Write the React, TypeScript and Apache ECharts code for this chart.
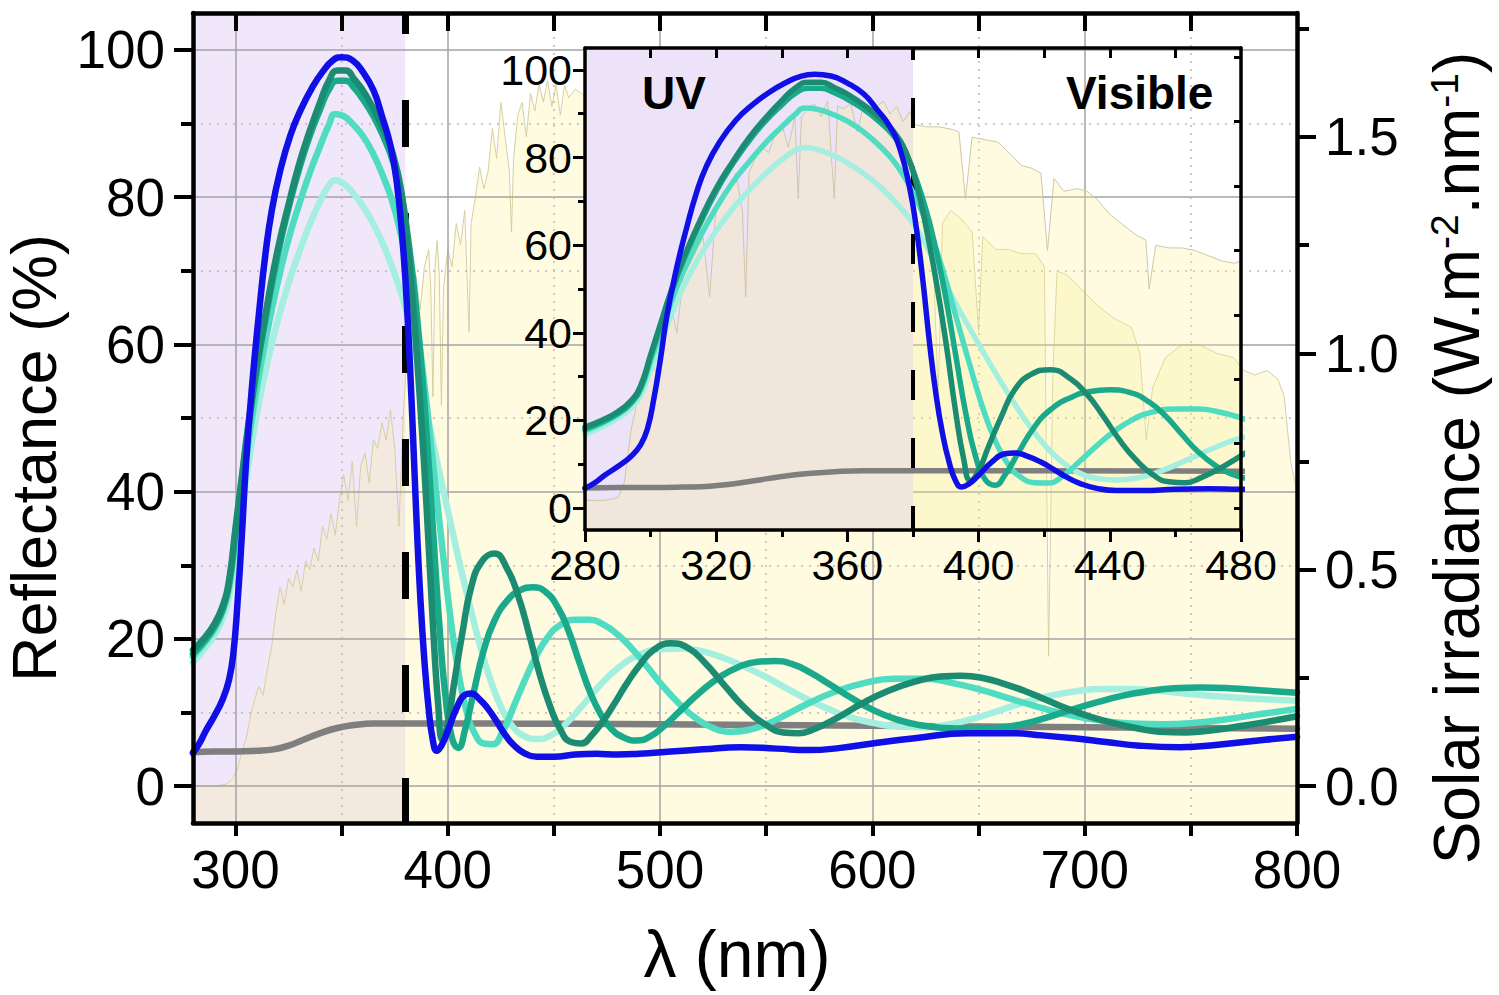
import React, { useEffect, useRef } from 'react';
import * as echarts from 'echarts';

const FONT = '"Liberation Sans", Arial, Helvetica, sans-serif';

// ---------- tick values ----------
const mainXLabels = [300, 400, 500, 600, 700, 800];
const mainXTicks = [300, 350, 400, 450, 500, 550, 600, 650, 700, 750, 800];
const mainXTopTicks = [300, 350, 400, 450, 500, 550, 600, 650, 700, 750];
const mainYLabels = [0, 20, 40, 60, 80, 100];
const mainYMinor = [10, 30, 50, 70, 90];
const irrLabels = [0, 0.5, 1.0, 1.5];
const irrMinor = [0.25, 0.75, 1.25, 1.75];
const gridSolidX = [300, 400, 500, 600, 700];
const gridDotX = [350, 450, 550, 650, 750];
const gridSolidY = [0, 20, 40, 60, 80, 100];
const gridDotY = [10, 30, 50, 70, 90];
const insetXLabels = [280, 320, 360, 400, 440, 480];
const insetXMinor = [300, 340, 380, 420, 460];
const insetXTop = [300, 320, 340, 360, 380, 400, 420, 440, 460];
const insetYLabels = [0, 20, 40, 60, 80, 100];
const insetYMinor = [10, 30, 50, 70, 90];
const insetIrrTicks = [0, 0.25, 0.5, 0.75, 1.0, 1.25, 1.5, 1.75];
const uvEdge = 380;

// ---------- reflectance curves [nm, %] ----------
const grayCurve = [[280,4.6],[290,4.7],[300,4.7],[310,4.8],[318,5],[325,5.5],[332,6.3],[340,7.2],[348,7.9],[356,8.3],[365,8.5],[380,8.5],[420,8.5],[500,8.4],[600,8.2],[700,8.0],[800,7.8]];

const paleCurve = [[280,16.8],[285,18.5],[290,20.5],[294,22.8],[297,25.8],[300,31.5],[303,37.5],[306,43.5],[310,50.5],[315,57.5],[320,63.3],[325,68.3],[330,72.5],[335,76.3],[340,79.5],[344,81.6],[347,82.3],[351,81.8],[355,80.7],[360,78.8],[365,76.3],[370,73.3],[375,69.5],[380,65],[385,58.5],[390,51],[395,44],[400,37.5],[405,31],[410,25],[415,19.3],[420,14.5],[425,10.8],[430,8.3],[436,6.8],[442,6.4],[448,6.8],[455,8.3],[463,10.8],[471,13.5],[480,16],[490,17.8],[500,18.6],[510,18.7],[520,18.3],[530,17.4],[540,16.2],[550,14.8],[560,13.2],[570,11.7],[580,10.4],[590,9.3],[600,8.6],[612,8.1],[624,8],[636,8.4],[648,9.2],[660,10.3],[672,11.4],[684,12.3],[696,12.9],[708,13.2],[720,13.2],[733,13],[747,12.6],[762,12.2],[778,11.9],[800,11.6]];

const turqCurve = [[280,17.6],[285,19.3],[290,21.3],[294,23.8],[297,27],[300,33.5],[303,40],[306,46.5],[310,54],[315,61.8],[320,68.5],[325,74.3],[330,79],[335,83.3],[340,87],[344,89.8],[347,91.3],[351,91],[355,90],[360,88.3],[365,85.8],[370,82.5],[374,79.3],[378,74.8],[381,70.5],[385,63.5],[389,54.5],[393,44],[397,33.5],[401,23.5],[405,15.5],[409,10],[413,7],[417,5.8],[421,5.7],[426,7.5],[431,10.8],[436,14.2],[441,17.3],[447,20.2],[453,21.9],[460,22.6],[467,22.6],[473,22],[480,20.6],[487,18.6],[494,16.2],[501,13.7],[509,11.2],[517,9.2],[525,7.9],[533,7.4],[541,7.6],[550,8.4],[560,9.8],[571,11.4],[583,12.9],[596,14],[610,14.6],[624,14.6],[638,14],[652,13],[666,11.8],[680,10.6],[694,9.6],[708,8.9],[722,8.5],[737,8.4],[752,8.6],[767,9.1],[783,9.8],[800,10.5]];

const tealCurve = [[280,18],[285,19.6],[290,21.6],[294,24],[297,27.5],[300,34.5],[303,41.5],[306,48.5],[310,56.5],[315,64.8],[320,72.3],[325,78.5],[330,83.8],[335,88.3],[340,92],[344,94.6],[348,95.8],[352,95.8],[356,94.8],[360,93.3],[365,91],[370,88],[374,85],[378,80.5],[381,75],[384,68],[387,59],[390,48],[393,35],[396,22],[399,12],[402,6.5],[405,5.2],[408,7.5],[412,12.5],[417,18.5],[422,22.5],[428,25.2],[434,26.6],[440,27],[446,26.4],[452,24.2],[457,21],[462,16.8],[467,12.8],[472,9.8],[477,7.8],[483,6.6],[489,6.2],[495,6.7],[502,8.2],[510,10.4],[519,12.8],[528,14.8],[537,16.2],[546,16.9],[554,17],[562,16.6],[571,15.4],[580,13.8],[590,12],[600,10.4],[611,9.1],[622,8.3],[634,7.9],[646,7.8],[658,7.9],[670,8.4],[682,9.3],[694,10.4],[706,11.4],[718,12.3],[730,12.9],[742,13.3],[755,13.4],[768,13.3],[784,13],[800,12.7]];

const darkCurve = [[280,18.5],[285,20],[290,22],[294,24.5],[297,28],[300,35],[303,42],[306,49],[310,57],[315,65.5],[320,73],[325,79],[330,84.5],[335,89],[340,93],[344,95.8],[348,97.2],[352,97.2],[356,96],[360,94.5],[365,92],[370,89],[374,86],[378,81],[381,74],[384,64],[387,52],[390,38],[393,22],[395.5,11],[397.5,6.3],[400,8.5],[403,14],[407,21],[411,27],[416,30.5],[422,31.6],[428,29.5],[433,26],[438,21],[443,15.5],[448,11],[453,7.7],[458,6],[463,5.8],[468,7],[473,8.8],[478,11],[484,13.8],[490,16.3],[497,18.5],[505,19.4],[513,18.8],[521,16.8],[530,13.8],[540,10.6],[550,8.3],[558,7.3],[565,7.2],[573,7.8],[583,9.2],[595,11.2],[607,12.9],[620,14.2],[632,14.9],[642,15],[652,14.7],[662,13.9],[672,12.9],[682,11.7],[692,10.5],[702,9.5],[713,8.6],[724,7.9],[735,7.4],[748,7.3],[760,7.6],[772,8.1],[785,8.7],[800,9.5]];

const blueCurve = [[280,4.5],[283,5.8],[286,7.5],[290,9.5],[294,11.8],[297,14.5],[299,18],[301,25],[303,34],[305,44],[308,55],[311,64],[314,72],[317,78],[321,83.5],[326,88.5],[331,92],[336,94.8],[341,97],[346,98.6],[350,99],[355,98.6],[360,97],[365,94.5],[369,91],[373,87],[376,82],[379,73],[381,64],[383,52],[385,38],[387,26],[389,17],[391,10.5],[393,6.2],[394.8,4.8],[397,5.5],[400,7.5],[404,10.5],[408,12.4],[411,12.6],[415,11.8],[419,10.5],[423,8.8],[427,7],[431,5.6],[436,4.5],[442,4],[450,4],[460,4.3],[470,4.4],[480,4.3],[490,4.4],[505,4.7],[520,5],[538,5.3],[555,5.1],[570,4.9],[585,5.2],[600,5.8],[620,6.5],[645,7.2],[665,7.2],[680,6.9],[695,6.5],[710,6],[726,5.5],[745,5.3],[765,5.7],[785,6.3],[800,6.7]];

// ---------- solar irradiance (main, W m-2 nm-1) ----------
const mainIrradiance = [[280,0],[290,0],[296,0.005],[299,0.02],[301,0.04],[303,0.08],[305,0.11],[307,0.16],[309,0.2],[311,0.23],[313,0.21],[315,0.27],[317,0.32],[319,0.4],[321,0.46],[323,0.42],[325,0.48],[327,0.46],[329,0.5],[331,0.45],[333,0.52],[335,0.5],[337,0.55],[339,0.52],[341,0.6],[343,0.57],[345,0.63],[347,0.58],[349,0.66],[351,0.72],[353,0.66],[355,0.75],[357,0.6],[359,0.74],[361,0.77],[363,0.7],[365,0.8],[367,0.78],[369,0.84],[371,0.8],[373,0.87],[375,0.78],[377,0.6],[379,0.85],[381,1.02],[383,1.12],[385,1.18],[387,1.1],[389,1.2],[391,1.24],[392,1.15],[393,0.9],[394,1.2],[395,1.26],[396,1.18],[397,0.88],[398,1.15],[400,1.24],[402,1.2],[404,1.3],[406,1.25],[408,1.33],[410,1.05],[411,1.3],[413,1.36],[415,1.43],[417,1.38],[419,1.42],[421,1.52],[423,1.45],[425,1.58],[427,1.5],[429,1.42],[430,1.28],[431,1.45],[433,1.55],[435,1.58],[437,1.5],[439,1.6],[441,1.56],[443,1.62],[445,1.58],[447,1.63],[449,1.57],[451,1.62],[453,1.55],[455,1.62],[457,1.59],[460,1.61],[463,1.6],[467,1.59],[475,1.58],[490,1.56],[510,1.52],[530,1.48],[550,1.44],[570,1.4],[590,1.37],[610,1.34],[620,1.3],[628,1.31],[631,0.9],[633,1.3],[637,1.33],[642,1.31],[647,1.28],[650,1.05],[652,1.27],[658,1.24],[664,1.24],[670,1.23],[677,1.23],[681,1.2],[683,0.3],[685,0.95],[687,1.19],[692,1.18],[700,1.14],[706,1.11],[714,1.08],[722,1.06],[726,1.0],[729,0.8],[732,0.92],[738,0.99],[746,1.02],[754,1.02],[762,1.0],[770,0.99],[775,0.96],[780,0.95],[786,0.96],[791,0.94],[794,0.9],[797,0.75],[800,0.68]];

// ---------- solar irradiance drawn in the inset ----------
const insetIrradiance = [[280,0.03],[286,0.03],[290,0.04],[292,0.1],[294,0.3],[296,0.42],[298,0.52],[300,0.62],[302,0.5],[304,0.72],[306,0.8],[308,0.68],[310,0.9],[312,0.95],[314,1.0],[316,1.05],[318,0.82],[320,1.18],[322,1.22],[324,1.25],[326,1.3],[328,1.15],[329,0.82],[330,1.3],[332,1.36],[334,1.4],[336,1.38],[338,1.45],[340,1.49],[342,1.4],[344,1.52],[345,1.2],[346,1.52],[348,1.55],[350,1.57],[352,1.52],[354,1.58],[356,1.2],[357,1.56],[359,1.55],[361,1.57],[363,1.46],[365,1.57],[367,1.52],[369,1.56],[371,1.58],[373,1.53],[375,1.56],[377,1.5],[379,1.54],[380,1.49],[384,1.48],[388,1.48],[392,1.47],[394,1.46],[396,1.2],[398,1.44],[402,1.43],[406,1.42],[410,1.37],[413,1.33],[416,1.32],[419,1.3],[421,1.0],[423,1.28],[426,1.23],[430,1.24],[433,1.23],[436,1.2],[440,1.14],[444,1.1],[448,1.06],[451,1.04],[452,0.85],[454,1.02],[458,1.01],[462,1.01],[466,1.0],[470,0.98],[474,0.96],[478,0.95],[480,0.96]];

const curveDefs = [
  { name: 'ref', data: grayCurve, color: '#7f7f7f' },
  { name: 'd4', data: paleCurve, color: '#a4efe0' },
  { name: 'd3', data: turqCurve, color: '#4fdcc0' },
  { name: 'd2', data: tealCurve, color: '#1aa98b' },
  { name: 'd1', data: darkCurve, color: '#1b8b72' },
  { name: 'd0', data: blueCurve, color: '#1010e6' },
];

const IRR_MIN = -0.085;
const IRR_MAX = 1.786;
const LAVENDER_T = 'rgba(195,160,240,0.25)';
const LAVENDER = '#ede3f9';
const YELLOW = 'rgba(250,242,145,0.39)';

function tickAxis(extra: any) {
  return {
    type: 'value',
    splitLine: { show: false },
    axisLabel: { show: false },
    axisTick: { show: false },
    axisLine: { show: false, onZero: false },
    z: 20,
    ...extra,
  };
}

function buildOption() {
  const labelStyle = (size: number, margin: number, values: number[], fmt?: (v: number) => string) => ({
    show: true,
    customValues: values,
    fontSize: size,
    fontFamily: FONT,
    color: '#000',
    margin,
    formatter: fmt,
  });

  const xAxis = [
    tickAxis({
      gridIndex: 0, position: 'bottom', min: 280, max: 800,
      axisLine: { show: true, onZero: false, lineStyle: { color: '#000', width: 4.5 } },
      axisTick: { show: true, inside: false, length: 13, lineStyle: { color: '#000', width: 4 }, customValues: mainXTicks },
      axisLabel: labelStyle(53, 20, mainXLabels),
      name: 'λ (nm)', nameLocation: 'middle', nameGap: 98,
      nameTextStyle: { fontSize: 66, fontFamily: FONT, color: '#000', padding: [0, 16, 0, 0] },
    }),
    tickAxis({
      gridIndex: 0, position: 'top', min: 280, max: 800,
      axisLine: { show: true, onZero: false, lineStyle: { color: '#000', width: 4.5 } },
      axisTick: { show: true, inside: true, length: 18, lineStyle: { color: '#000', width: 4 }, customValues: mainXTopTicks },
    }),
    tickAxis({
      gridIndex: 1, position: 'bottom', min: 280, max: 480,
      axisLine: { show: true, onZero: false, lineStyle: { color: '#000', width: 3.5 } },
      axisTick: { show: true, inside: false, length: 12, lineStyle: { color: '#000', width: 3 }, customValues: insetXLabels },
      axisLabel: labelStyle(43, 13, insetXLabels),
    }),
    tickAxis({
      gridIndex: 1, position: 'bottom', min: 280, max: 480,
      axisTick: { show: true, inside: false, length: 7, lineStyle: { color: '#000', width: 3 }, customValues: insetXMinor },
    }),
    tickAxis({
      gridIndex: 1, position: 'top', min: 280, max: 480,
      axisLine: { show: true, onZero: false, lineStyle: { color: '#000', width: 3.5 } },
      axisTick: { show: true, inside: true, length: 10, lineStyle: { color: '#000', width: 3 }, customValues: insetXTop },
    }),
  ];

  const yAxis = [
    tickAxis({
      gridIndex: 0, position: 'left', min: -5, max: 105,
      axisLine: { show: true, onZero: false, lineStyle: { color: '#000', width: 4.5 } },
      axisTick: { show: true, length: 19, lineStyle: { color: '#000', width: 4 }, customValues: mainYLabels },
      axisLabel: labelStyle(53, 28, mainYLabels),
      name: 'Reflectance (%)', nameLocation: 'middle', nameGap: 106,
      nameTextStyle: { fontSize: 63, fontFamily: FONT, color: '#000', padding: [0, 80, 0, 0] },
    }),
    tickAxis({
      gridIndex: 0, position: 'left', min: -5, max: 105,
      axisTick: { show: true, length: 12, lineStyle: { color: '#000', width: 4 }, customValues: mainYMinor },
    }),
    tickAxis({
      gridIndex: 0, position: 'right', min: IRR_MIN, max: IRR_MAX,
      axisLine: { show: true, onZero: false, lineStyle: { color: '#000', width: 4.5 } },
      axisTick: { show: true, length: 19, lineStyle: { color: '#000', width: 4 }, customValues: irrLabels },
      axisLabel: labelStyle(53, 28, irrLabels, (v: number) => v.toFixed(1)),
      name: 'Solar irradiance (W.m{sup|-2}.nm{sup|-1})', nameLocation: 'middle', nameGap: 128,
      nameTextStyle: {
        fontSize: 64, fontFamily: FONT, color: '#000', padding: [0, 80, 0, 0],
        rich: { sup: { fontSize: 39, fontFamily: FONT, color: '#000', verticalAlign: 'top' } },
      },
    }),
    tickAxis({
      gridIndex: 0, position: 'right', min: IRR_MIN, max: IRR_MAX,
      axisTick: { show: true, length: 12, lineStyle: { color: '#000', width: 4 }, customValues: irrMinor },
    }),
    tickAxis({
      gridIndex: 1, position: 'left', min: -5, max: 105,
      axisLine: { show: true, onZero: false, lineStyle: { color: '#000', width: 3.5 } },
      axisTick: { show: true, length: 12, lineStyle: { color: '#000', width: 3 }, customValues: insetYLabels },
      axisLabel: labelStyle(43, 13, insetYLabels),
    }),
    tickAxis({
      gridIndex: 1, position: 'left', min: -5, max: 105,
      axisTick: { show: true, length: 7, lineStyle: { color: '#000', width: 3 }, customValues: insetYMinor },
    }),
    tickAxis({
      gridIndex: 1, position: 'right', min: IRR_MIN, max: IRR_MAX,
      axisLine: { show: true, onZero: false, lineStyle: { color: '#000', width: 3.5 } },
      axisTick: { show: true, inside: true, length: 7, lineStyle: { color: '#000', width: 3 }, customValues: insetIrrTicks },
    }),
  ];

  const gridLineData = (xs: number[], ys: number[]) => [
    ...xs.map((v) => ({ xAxis: v })),
    ...ys.map((v) => ({ yAxis: v })),
  ];

  const series: any[] = [
    {
      type: 'line', xAxisIndex: 0, yAxisIndex: 0, data: [], z: 0, silent: true,
      markArea: { silent: true, z: 0, itemStyle: { color: LAVENDER_T }, data: [[{ xAxis: 280 }, { xAxis: uvEdge }]] },
    },
    {
      type: 'line', xAxisIndex: 0, yAxisIndex: 2, data: mainIrradiance, z: 1, silent: true,
      symbol: 'none', lineStyle: { color: '#d6d0a0', width: 1 },
      areaStyle: { color: YELLOW, origin: 'start' },
    },
    {
      type: 'line', xAxisIndex: 0, yAxisIndex: 0, data: [], z: 2, silent: true,
      markLine: {
        silent: true, z: 2, symbol: ['none', 'none'], label: { show: false },
        lineStyle: { color: '#a3a3a3', width: 1.5, type: 'solid' },
        data: gridLineData(gridSolidX, gridSolidY),
      },
    },
    {
      type: 'line', xAxisIndex: 0, yAxisIndex: 0, data: [], z: 2, silent: true,
      markLine: {
        silent: true, z: 2, symbol: ['none', 'none'], label: { show: false },
        lineStyle: { color: '#b9b9b9', width: 1.5, type: [2, 6] },
        data: gridLineData(gridDotX, gridDotY),
      },
    },
    {
      type: 'line', xAxisIndex: 0, yAxisIndex: 0, data: [], z: 3, silent: true,
      markLine: {
        silent: true, z: 3, symbol: ['none', 'none'], label: { show: false },
        lineStyle: { color: '#000', width: 7, type: [47, 66], dashOffset: 26 },
        data: [[{ coord: [uvEdge, 105] }, { coord: [uvEdge, -5] }]],
      },
    },
    ...curveDefs.map((c) => ({
      type: 'line', name: c.name, xAxisIndex: 0, yAxisIndex: 0, data: c.data, z: 4, silent: true,
      symbol: 'none', smooth: 0.5,
      lineStyle: { color: c.color, width: 6.5, cap: 'round', join: 'round' },
    })),
    {
      type: 'line', xAxisIndex: 2, yAxisIndex: 4, data: [], z: 10, silent: true,
      markArea: { silent: true, z: 10, itemStyle: { color: LAVENDER }, data: [[{ xAxis: 280 }, { xAxis: uvEdge }]] },
    },
    {
      type: 'line', xAxisIndex: 2, yAxisIndex: 6, data: insetIrradiance, z: 11, silent: true,
      symbol: 'none', lineStyle: { color: '#cfc7a6', width: 1 },
      areaStyle: { color: YELLOW, origin: 'start' },
    },
    {
      type: 'line', xAxisIndex: 2, yAxisIndex: 4, data: [], z: 12, silent: true,
      markLine: {
        silent: true, z: 12, symbol: ['none', 'none'], label: { show: false },
        lineStyle: { color: '#000', width: 4, type: [30, 38], dashOffset: 18 },
        data: [[{ coord: [uvEdge, 105] }, { coord: [uvEdge, -5] }]],
      },
    },
    ...curveDefs.map((c) => ({
      type: 'line', name: c.name + '-inset', xAxisIndex: 2, yAxisIndex: 4, data: c.data, z: 13, silent: true,
      symbol: 'none', smooth: 0.5,
      lineStyle: { color: c.color, width: 5.5, cap: 'round', join: 'round' },
    })),
  ];

  return {
    animation: false,
    backgroundColor: '#ffffff',
    textStyle: { fontFamily: FONT },
    grid: [
      { left: 193, top: 13, width: 1104, height: 810, containLabel: false, outerBoundsMode: 'none' },
      { left: 585, top: 48, width: 656, height: 482, containLabel: false, outerBoundsMode: 'none' },
    ],
    xAxis,
    yAxis,
    series,
    graphic: [
      { type: 'text', z: 30, left: 642, top: 70, style: { text: 'UV', font: `bold 46px ${FONT}`, fill: '#000' } },
      { type: 'text', z: 30, left: 1066, top: 70, style: { text: 'Visible', font: `bold 46px ${FONT}`, fill: '#000' } },
    ],
  };
}

export default function App() {
  const ref = useRef<HTMLDivElement>(null);
  useEffect(() => {
    if (!ref.current) return;
    const chart = echarts.init(ref.current, null, { renderer: 'svg' });
    chart.setOption(buildOption() as any);
    return () => chart.dispose();
  }, []);
  return (
    <div
      ref={ref}
      style={{ position: 'absolute', left: 0, top: 0, width: 1499, height: 995, background: '#fff' }}
    />
  );
}
